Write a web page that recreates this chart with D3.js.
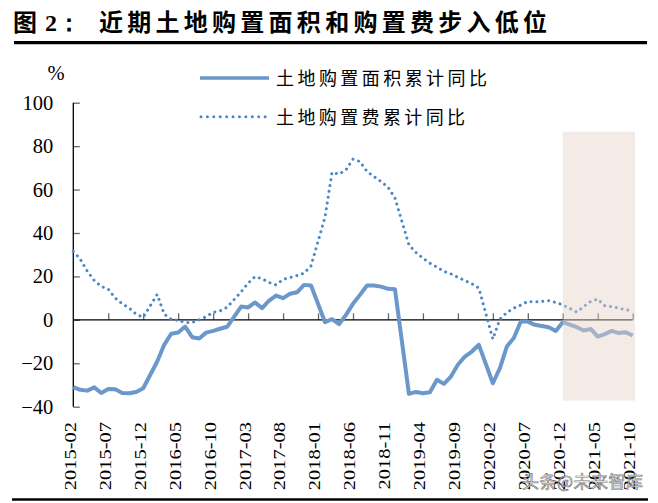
<!DOCTYPE html>
<html>
<head>
<meta charset="utf-8">
<script src="https://cdn.jsdelivr.net/npm/d3@7/dist/d3.min.js"></script>
<style>
  html, body { margin: 0; padding: 0; background: #fff; }
  svg { display: block; }
</style>
</head>
<body>
<svg id="chart" width="658" height="503"></svg>
<script>
// ---- data ----
const startMonth = "2015-02";
const endMonth = "2021-10";
// 土地购置面积累计同比 (%), January values not published (null)
const areaYoY = [
  -31.0, -32.2, -32.6, -31.1, -33.7, -31.9, -32.0, -33.7, -33.8, -33.2, -31.5, null,
  -19.2, -11.5, -6.4, -5.8, -3.1, -8.0, -8.6, -5.9, -5.1, -4.1, -3.2, null,
  6.1, 5.7, 8.0, 5.4, 8.9, 11.2, 10.0, 12.0, 12.7, 16.1, 15.8, null,
  -1.1, 0.3, -2.0, 2.3, 7.4, 11.5, 15.8, 15.8, 15.3, 14.3, 14.1, null,
  -34.1, -33.2, -33.8, -33.3, -27.6, -29.5, -26.1, -20.7, -16.9, -14.6, -11.5, null,
  -29.2, -22.3, -12.3, -8.4, -0.8, -0.8, -2.3, -2.8, -3.4, -5.1, -1.1, null,
  -3.4, -4.9, -4.2, -7.7, -6.6, -5.1, -6.1, -5.7, -7.2
];
// 土地购置费累计同比 (%)
const costYoY = [
  31.5, 27.9, 22.4, 18.1, 15.4, 14.1, 10.0, 7.4, 5.4, 2.6, 1.2, null,
  11.7, 2.6, 0.3, -0.3, -1.2, -1.2, 0.0, 1.5, 3.5, 4.1, 5.8, null,
  12.9, 16.9, 19.9, 18.9, 17.2, 16.1, 18.6, 19.5, 20.4, 21.5, 24.9, null,
  47.3, 67.9, 67.1, 69.1, 74.0, 72.9, 68.3, 66.0, 63.7, 61.1, 56.1, null,
  34.5, 31.0, 28.4, 26.1, 24.3, 22.3, 21.2, 19.6, 18.1, 16.6, 14.6, null,
  -8.9, 0.3, 3.4, 5.4, 6.8, 8.5, 8.2, 8.5, 8.8, 8.0, 6.9, null,
  3.6, 6.1, 8.5, 9.6, 6.5, 6.1, 5.4, 4.6, 4.3
];
const xTickLabels = ["2015-02","2015-07","2015-12","2016-05","2016-10","2017-03","2017-08",
  "2018-01","2018-06","2018-11","2019-04","2019-09","2020-02","2020-07","2020-12","2021-05","2021-10"];
const yTicks = [-40, -20, 0, 20, 40, 60, 80, 100];
const shadeFrom = "2020-12";
const shadeTo = "2021-10";
const seriesNames = ["土地购置面积累计同比", "土地购置费累计同比"];
const titleLead = "图";
const titleNum = "2：";
const titleText = "近期土地购置面积和购置费步入低位";
const watermark = "头条@未来智库";

// categories (months)
const fmt = d3.timeFormat("%Y-%m");
const parse = d3.timeParse("%Y-%m");
const categories = d3.timeMonth.range(parse(startMonth), d3.timeMonth.offset(parse(endMonth), 1)).map(fmt);

// ---- layout ----
const svg = d3.select("#chart");
const x = d3.scalePoint().domain(categories).range([73.3, 632.7]);
const y = d3.scaleLinear().domain([-40, 100]).range([406.7, 102.7]);

const serif = "'Liberation Serif','Times New Roman',serif";
const cjk = "'Noto Sans CJK SC','Noto Sans CJK JP',sans-serif";

// title
svg.append("text").attr("x", 13).attr("y", 31)
  .attr("font-family", cjk).attr("font-weight", 700).attr("font-size", 24)
  .attr("fill", "#000").text(titleLead);
svg.append("text").attr("x", 45).attr("y", 31)
  .attr("font-family", serif).attr("font-weight", 700).attr("font-size", 24)
  .attr("fill", "#000").text(titleNum);
svg.append("text").attr("x", 99).attr("y", 31)
  .attr("font-family", cjk).attr("font-weight", 700).attr("font-size", 24)
  .attr("textLength", 448).attr("lengthAdjust", "spacing")
  .attr("fill", "#000").text(titleText);
svg.append("line").attr("x1", 14).attr("x2", 647).attr("y1", 42.7).attr("y2", 42.7)
  .attr("stroke", "#000").attr("stroke-width", 3.2);
// bottom rule
svg.append("line").attr("x1", 12).attr("x2", 648).attr("y1", 499.5).attr("y2", 499.5)
  .attr("stroke", "#000").attr("stroke-width", 2.6);

// y axis labels
svg.append("g").attr("transform", "translate(73.3,0)")
  .call(d3.axisLeft(y).tickValues(yTicks).tickSize(0).tickPadding(20).tickFormat(d3.format("d")))
  .call(g => g.select(".domain").remove())
  .call(g => g.selectAll("text").attr("font-family", serif).attr("font-size", 20.5).attr("fill", "#000"));
// y axis inner ticks
svg.append("g").attr("transform", "translate(73.3,0)")
  .call(d3.axisRight(y).tickValues(yTicks).tickSize(6.5).tickFormat(""))
  .call(g => g.select(".domain").remove())
  .call(g => g.selectAll("line").attr("stroke", "#666").attr("stroke-width", 1.3));
svg.append("line").attr("x1", 73.3).attr("x2", 73.3).attr("y1", y(100)).attr("y2", y(-40))
  .attr("stroke", "#000").attr("stroke-width", 1.3);
// % unit
svg.append("text").attr("x", 56).attr("y", 80).attr("text-anchor", "middle")
  .attr("font-family", serif).attr("font-size", 20.5).attr("fill", "#000").text("%");

// x axis at 0
const tickCats = categories.filter((c, i) => i % 5 === 0);
svg.append("g").attr("transform", `translate(0,${y(0)})`)
  .call(d3.axisTop(x).tickValues(tickCats.slice(1)).tickSize(6.5).tickFormat(""))
  .call(g => g.select(".domain").remove())
  .call(g => g.selectAll("line").attr("stroke", "#666").attr("stroke-width", 1.3));
svg.append("line").attr("x1", 73.3).attr("x2", 632.7).attr("y1", y(0)).attr("y2", y(0))
  .attr("stroke", "#000").attr("stroke-width", 1.4);

// x labels (rotated)
svg.append("g").selectAll("text").data(xTickLabels).join("text")
  .attr("transform", d => `translate(${x(d) + 2.4},422) rotate(-90) scale(1,0.8)`)
  .attr("text-anchor", "end")
  .attr("font-family", serif).attr("font-size", 20.5).attr("fill", "#000")
  .text(d => d);

// lines
const areaColor = "#6b98cb";
const costColor = "#4b86c6";
const pts = arr => categories.map((c, i) => ({c, v: arr[i]})).filter(d => d.v !== null);
const line = d3.line().x(d => x(d.c)).y(d => y(d.v));
svg.append("path").datum(pts(costYoY)).attr("d", line)
  .attr("fill", "none").attr("stroke", costColor).attr("stroke-width", 3)
  .attr("stroke-linecap", "round").attr("stroke-dasharray", "0.01 5.9");
svg.append("path").datum(pts(areaYoY)).attr("d", line)
  .attr("fill", "none").attr("stroke", areaColor).attr("stroke-width", 4)
  .attr("stroke-linejoin", "round");

// shaded period (overlay)
svg.append("rect")
  .attr("x", x(shadeFrom)).attr("width", x(shadeTo) - x(shadeFrom) + 2.3)
  .attr("y", 131.7).attr("height", 400.7 - 131.7)
  .attr("fill", "rgb(233,211,200)").attr("fill-opacity", 0.45);

// legend
svg.append("line").attr("x1", 200).attr("x2", 269).attr("y1", 78).attr("y2", 78)
  .attr("stroke", areaColor).attr("stroke-width", 3.5);
svg.append("line").attr("x1", 201).attr("x2", 266).attr("y1", 116.7).attr("y2", 116.7)
  .attr("stroke", costColor).attr("stroke-width", 3)
  .attr("stroke-linecap", "round").attr("stroke-dasharray", "0.01 6.4");
svg.append("text").attr("x", 276).attr("y", 85)
  .attr("font-family", cjk).attr("font-size", 18).attr("fill", "#000")
  .attr("textLength", 211).attr("lengthAdjust", "spacing").text(seriesNames[0]);
svg.append("text").attr("x", 276).attr("y", 123.5)
  .attr("font-family", cjk).attr("font-size", 18).attr("fill", "#000")
  .attr("textLength", 189).attr("lengthAdjust", "spacing").text(seriesNames[1]);

// watermark
svg.append("text").attr("x", 522).attr("y", 488)
  .attr("font-family", cjk).attr("font-size", 17)
  .attr("fill", "#fff").attr("fill-opacity", 0.85)
  .attr("stroke", "#555").attr("stroke-width", 0.7).attr("stroke-opacity", 0.8)
  .attr("textLength", 121).attr("lengthAdjust", "spacing")
  .text(watermark);
</script>
</body>
</html>
